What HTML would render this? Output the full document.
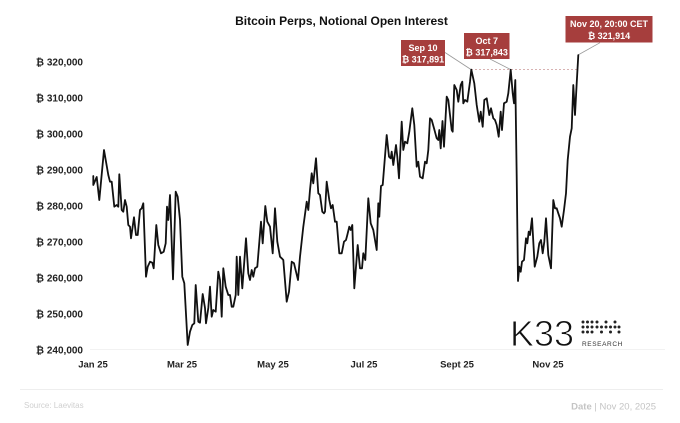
<!DOCTYPE html>
<html><head><meta charset="utf-8"><style>
html,body{margin:0;padding:0;background:#fff;}
svg{display:block;font-family:"Liberation Sans","DejaVu Sans",sans-serif;}
</style></head><body>
<svg width="680" height="423" viewBox="0 0 680 423" xmlns="http://www.w3.org/2000/svg">
<rect width="680" height="423" fill="#fff"/>
<text x="341.5" y="25" text-anchor="middle" font-size="12" font-weight="bold" fill="#111">Bitcoin Perps, Notional Open Interest</text>
<g font-size="10" font-weight="bold" fill="#222" text-anchor="end">
<text x="83" y="65.5">₿ 320,000</text>
<text x="83" y="101.5">₿ 310,000</text>
<text x="83" y="137.5">₿ 300,000</text>
<text x="83" y="173.5">₿ 290,000</text>
<text x="83" y="209.5">₿ 280,000</text>
<text x="83" y="245.5">₿ 270,000</text>
<text x="83" y="281.5">₿ 260,000</text>
<text x="83" y="317.5">₿ 250,000</text>
<text x="83" y="353.5">₿ 240,000</text>
</g>
<line x1="90" y1="349.5" x2="665" y2="349.5" stroke="#f2f2f2" stroke-width="1"/>
<g font-size="9.5" font-weight="bold" fill="#222" text-anchor="middle">
<text x="93" y="367.5">Jan 25</text>
<text x="182" y="367.5">Mar 25</text>
<text x="273" y="367.5">May 25</text>
<text x="364" y="367.5">Jul 25</text>
<text x="457" y="367.5">Sept 25</text>
<text x="548" y="367.5">Nov 25</text>
</g>
<!-- logo -->
<text x="510" y="346" font-size="36" fill="#111" stroke="#fff" stroke-width="0.9">K33</text>
<g fill="#222">
<circle cx="583" cy="322" r="1.5"/><circle cx="587.5" cy="322" r="1.5"/><circle cx="592" cy="322" r="1.5"/>
<circle cx="583" cy="327" r="1.5"/><circle cx="587.5" cy="327" r="1.5"/><circle cx="592" cy="327" r="1.5"/>
<circle cx="583" cy="332" r="1.5"/><circle cx="587.5" cy="332" r="1.5"/><circle cx="592" cy="332" r="1.5"/>
<circle cx="597" cy="327" r="1.5"/><circle cx="601.5" cy="327" r="1.5"/><circle cx="606" cy="327" r="1.5"/><circle cx="610.5" cy="327" r="1.5"/><circle cx="615" cy="327" r="1.5"/><circle cx="619" cy="327" r="1.5"/>
<circle cx="597" cy="322" r="1.5"/><circle cx="606" cy="322" r="1.5"/><circle cx="615" cy="322" r="1.5"/>
<circle cx="601.5" cy="332" r="1.5"/><circle cx="610.5" cy="332" r="1.5"/><circle cx="619" cy="332" r="1.5"/>
</g>
<text x="582" y="346" font-size="6.5" fill="#333" letter-spacing="0.6">RESEARCH</text>
<!-- dashed ref line -->
<line x1="471" y1="69.5" x2="579" y2="69.5" stroke="#c99" stroke-width="0.8" stroke-dasharray="2,2"/>
<!-- leader lines -->
<g stroke="#999" stroke-width="0.8">
<line x1="445" y1="52.5" x2="471" y2="69.5"/>
<line x1="490" y1="59" x2="510.5" y2="69.5"/>
<line x1="600" y1="42.7" x2="578" y2="55"/>
</g>
<!-- series -->
<polyline fill="none" stroke="#111" stroke-width="1.8" stroke-linejoin="round" stroke-linecap="round" points="
93.3,176 93.3,185 96.7,177 99.3,200 104,150 108.3,175 110,181.7 111.7,181.7 114.3,206.7 116.7,205 118.3,206.7 119.3,174.3 121.7,210 123.3,211.7 125,200 126.7,206.7 128.3,225 130,226.7 131,238.3 134,217.3 136,235 137.7,235 140,210 141.7,208.3 143.3,203.3 146,276.7 147.7,266.7 150,261.7 152.3,262.7 153.7,268.3 156.3,225 158.3,245 161,253.3 163.7,251.7 165.7,243.3 167,206.7 168.3,220 170,195 173,279.3 175.7,191.7 177.7,196.7 180,220 182.3,276.7 184.3,283.3 187.7,345 190,331.7 192.3,325 194.3,323.3 195.7,285 198.3,321.7 200,322.7
202.7,294 205,308 206,323.3 208.3,308 210,286.7 211.7,316.7 213.3,310 215.7,311.7 218.3,271.7 220,280 221.7,316.7 223.3,268.3 225.7,286.7 228.3,295 230,295 231.7,306.7 233.3,306.7 235.7,295 236.7,256.7 238.3,295 240,256.7 242.3,288.3 246,238.3 248.3,273.3 250,280 251.7,270 253.3,276.7 255,268.3 257.3,266.7 261,221.7 262.7,243.3 265.3,206 267.3,221.7 270,226.7 272.7,253.3 275,208.3 277.3,241.7 280,256.7 281.7,258.3 283.3,260 286.7,301.7 289,291.7 291.7,261.7 294,263.3 296,271.7 298,280 300,256.7 303.3,226.7 306.7,201.7 308.3,210 310,190 311.7,173.3 313.3,183.3 316,158.3 318.3,193.3 320,195 322.3,211.7 324,213.3 325,211.7 326.7,181.7 329.3,200 331,208.3 332.7,205 335,221.7 336.7,221.7 339.3,253.3 341.7,253.3 344,241.7 346,240 347.3,235 349.3,226.7 350.7,230 352.3,225 354.3,288.3 357.7,245 360,268.3 362,268.3 363.3,253.3 365.3,260 368.3,198.3 370.7,223.3 373.3,230 376.7,250 378.3,203.3 379.3,216.7 381,186 382.7,185 386.7,135 389,156.7 390.7,158.3 391.7,151.7 393.3,165 396,145 397.3,156.7 399,178.3 401.7,121.7 403.3,150 405,141.7 407.3,143.3 409.3,131.7 412.3,108.3 414.3,125 416.7,166.7 418.3,161.7 420,176.7 422.7,178.3 425,161.7 426.7,163.3 428.3,150 430,118.3 431.7,120 434,128.3 436.7,138.3 438.3,140 439.3,130 440.7,148.3 442.5,121 444,146.7 446.7,96.7 448.3,100 451.7,130 452.7,131.7 454.3,85 456.7,90 458.3,101.7 460.7,85 462.3,81.7 463.3,103.3 465,100 467.3,101.7 470,81.7 471.3,69.6 474.3,83.3 476.7,105 479.3,121.7 480.7,111.7 482.7,126.7 484.3,100 486.7,98.3 489.3,115 491,108.3 493.3,118.3 495,120 496.7,125 498.7,136.7 500.7,111.7 502,130 504,103.3 506.7,101.7 508.3,93.3 510.7,69.8 512.7,93.3 514,103.3 515.3,80 516.7,176.7 518,281 519.3,266.7 520.7,271.7 522,261.7 524,260 526,238.3 527.3,243.3 528.7,231.7 530,235 532,218.3 534.7,266.7 537.3,256.7 539.3,243.3 541,240 542.7,253.3 544.3,241.7 546,218.3 548.3,255 551,268.3 553.3,200 555,208.3 556.7,208.3 558.3,213.3 560,218.3 561.7,226.7 564,210 566,193.3 567.7,160 570,136.7 571.7,128.3 573.3,85 575,115 576.7,83.3 578.3,55.1"/>
<!-- annotation boxes -->
<g fill="#a63e3d">
<rect x="401" y="40" width="44" height="26"/>
<rect x="464" y="33" width="45.5" height="26"/>
<rect x="565.5" y="16" width="87" height="26.5"/>
</g>
<g fill="#fff" font-size="9" font-weight="bold" text-anchor="middle">
<text x="423" y="51">Sep 10</text>
<text x="423" y="62.5">₿ 317,891</text>
<text x="486.7" y="44">Oct 7</text>
<text x="486.7" y="55.5">₿ 317,843</text>
<text x="609" y="27">Nov 20, 20:00 CET</text>
<text x="609" y="39">₿ 321,914</text>
</g>
<!-- footer -->
<line x1="20" y1="389.5" x2="663" y2="389.5" stroke="#eeeeee" stroke-width="1"/>
<text x="24" y="408" font-size="8" fill="#d0d0d0">Source: Laevitas</text>
<text x="656" y="409.5" font-size="9.5" fill="#c4c4c4" text-anchor="end"><tspan font-weight="bold">Date</tspan> | Nov 20, 2025</text>
</svg>
</body></html>
